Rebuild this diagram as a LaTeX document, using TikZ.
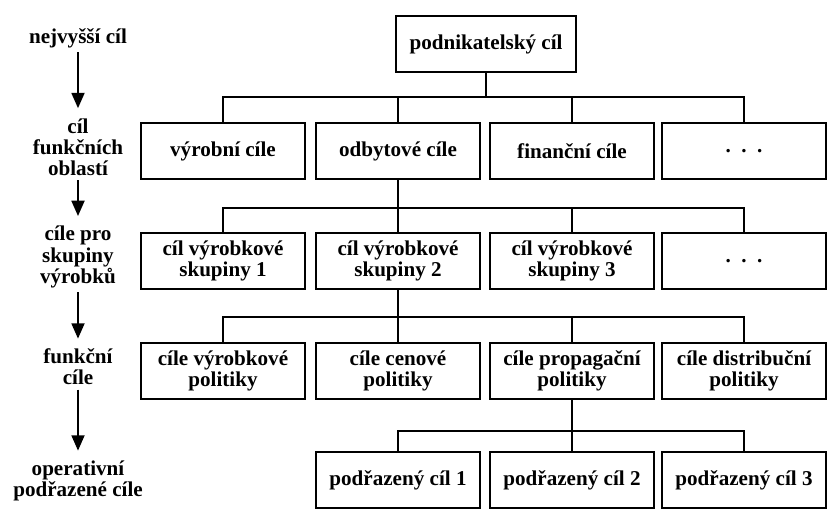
\documentclass[tikz,border=0pt]{standalone}
\usepackage{fontspec}
\setmainfont{Liberation Serif}
\usetikzlibrary{arrows.meta, positioning}

\tikzset{
  goal/.style={draw, line width=1.5pt, minimum width=4.1cm, minimum height=1.4cm,
    align=center, inner sep=2pt, font=\bfseries\fontsize{15}{15}\selectfont},
  level/.style={align=center, inner sep=3pt, font=\bfseries\fontsize{15}{15}\selectfont},
  link/.style={line width=1.8pt},
  down/.style={line width=2pt, -{Triangle[width=9pt,length=11pt]}, shorten >=4pt}
}

\begin{document}
\begin{tikzpicture}[x=0.025cm, y=-0.025cm]
\useasboundingbox (0,0) rectangle (827,512);
% Levels on the left
\node[level] (lev1) at (78,38) {nejvyšší cíl};
\node[level] (lev2) at (78,147) {cíl\\funkčních\\oblastí};
\node[level] (lev3) at (78,257) {cíle pro\\skupiny\\výrobků};
\node[level] (lev4) at (78,367) {funkční\\cíle};
\node[level] (lev5) at (78,481) {operativní\\podřazené cíle};
\draw[down] (lev1) -- (lev2);
\draw[down] (lev2) -- (lev3);
\draw[down] (lev3) -- (lev4);
\draw[down] (lev4) -- (lev5);
% Top goal
\node[goal, minimum width=4.5cm] (top) at (486,44) {podnikatelský cíl};
% Goals of functional areas
\node[goal] (vyr) at (223,151) {výrobní cíle};
\node[goal] (odb) at (398,151) {odbytové cíle};
\node[goal] (fin) at (572,151) {finanční cíle};
\node[goal] (dal) at (744,151) {.\ \ .\ \ .};
% Goals of product groups
\node[goal] (sk1) at (223,261) {cíl výrobkové\\skupiny 1};
\node[goal] (sk2) at (398,261) {cíl výrobkové\\skupiny 2};
\node[goal] (sk3) at (572,261) {cíl výrobkové\\skupiny 3};
\node[goal] (skd) at (744,261) {.\ \ .\ \ .};
% Functional goals
\node[goal] (pvyr) at (223,371) {cíle výrobkové\\politiky};
\node[goal] (pcen) at (398,371) {cíle cenové\\politiky};
\node[goal] (pprop) at (572,371) {cíle propagační\\politiky};
\node[goal] (pdis) at (744,371) {cíle distribuční\\politiky};
% Subordinate goals
\node[goal] (pod1) at (398,480) {podřazený cíl 1};
\node[goal] (pod2) at (572,480) {podřazený cíl 2};
\node[goal] (pod3) at (744,480) {podřazený cíl 3};
% Connections
\foreach \c in {vyr,odb,fin,dal}
  \draw[link] (top.south) -- ++(0,24) -| (\c.north);
\foreach \c in {sk1,sk2,sk3,skd}
  \draw[link] (odb.south) -- ++(0,28) -| (\c.north);
\foreach \c in {pvyr,pcen,pprop,pdis}
  \draw[link] (sk2.south) -- ++(0,27) -| (\c.north);
\foreach \c in {pod1,pod2,pod3}
  \draw[link] (pprop.south) -- ++(0,31) -| (\c.north);
\end{tikzpicture}
\end{document}
